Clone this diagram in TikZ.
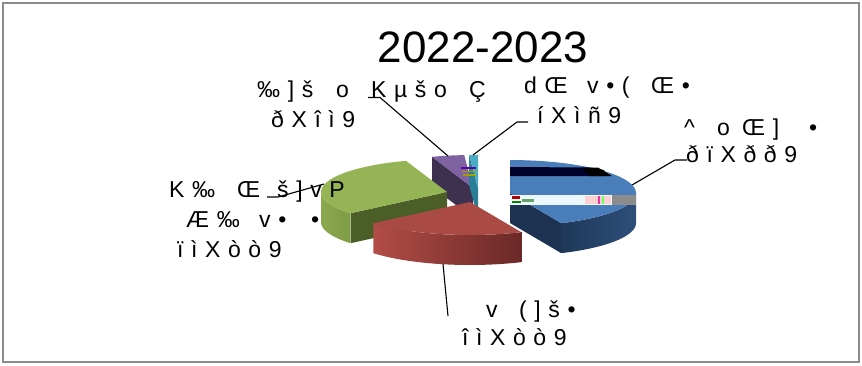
\documentclass[tikz,border=0pt]{standalone}
\usepackage{fontspec}
\setmainfont{Liberation Sans}
\newfontfamily\lblfont{Liberation Sans}[LetterSpace=33]
\definecolor{framegray}{HTML}{8C8C8C}
\definecolor{bluetop}{HTML}{4A7EBB}
\definecolor{bluedark}{HTML}{1D3250}
\definecolor{bluesideA}{HTML}{1F3858}
\definecolor{bluesideB}{HTML}{2E4E7A}
\definecolor{redtop}{HTML}{AA4A44}
\definecolor{redsideA}{HTML}{B24C47}
\definecolor{redsideB}{HTML}{6A2927}
\definecolor{greentop}{HTML}{94B455}
\definecolor{greensideA}{HTML}{8AA84D}
\definecolor{greensideB}{HTML}{7F9C46}
\definecolor{greendark}{HTML}{4B5E28}
\definecolor{purpletop}{HTML}{7E62A1}
\definecolor{purpledark}{HTML}{3E3150}
\definecolor{tealtop}{HTML}{4BACC6}
\definecolor{tealdark}{HTML}{2A7F96}
\begin{document}
\begin{tikzpicture}[x=1pt,y=-1pt,
  lbl/.style={anchor=base west,inner sep=0pt,font=\lblfont\fontsize{23}{23}\selectfont},
  leader/.style={draw=black,line width=1.1pt},
  rimplot/.style={samples=30,variable=\t}]
\useasboundingbox (0,0) rectangle (862,365);
\draw[framegray,line width=1.2pt] (3,3) rectangle (859,362);

% title
\node[anchor=base,inner sep=0pt,font=\fontsize{44}{44}\selectfont] (title) at (483,62) {2022-2023};

% ---- exploded 3D pie: back slices first ----
% purple slice
\fill[purpledark] (473,188) -- (432,156.8) -- (432,186.8) -- (473,218) -- cycle;
\fill[purpletop] (473,188) -- plot[rimplot,domain=251:266] ({473+126*cos(\t)},{188+33*sin(\t)}) -- cycle;
% teal slice
\fill[tealdark] (478,188) -- (469.2,155.1) -- (469.2,185.1) -- (478,218) -- cycle;
\fill[tealtop] (478,188) -- plot[rimplot,domain=266:270] ({478+126*cos(\t)},{188+33*sin(\t)}) -- cycle;
% small coloured marks at the teal slice
\fill[violet!70!blue] (461,167) rectangle (476,169);
\fill[olive!80!yellow] (462,170.5) rectangle (477,172);
\fill[olive!80!yellow] (463,174) rectangle (476,175.5);

% green slice
\fill[greendark] (447,192) -- (350.5,213.2) -- (350.5,243.2) -- (447,222) -- cycle;
\shade[left color=greensideA,right color=greensideB]
  plot[rimplot,domain=140:180] ({447+126*cos(\t)},{192+33*sin(\t)})
  -- plot[rimplot,domain=180:140] ({447+126*cos(\t)},{222+33*sin(\t)}) -- cycle;
\fill[greentop] (447,192) -- plot[rimplot,domain=140:251] ({447+126*cos(\t)},{192+33*sin(\t)}) -- cycle;

% blue slice
\fill[bluedark] (510,193) -- (561.2,223.1) -- (561.2,253.1) -- (510,223) -- cycle;
\shade[left color=bluesideA,right color=bluesideB]
  plot[rimplot,domain=0:66] ({510+126*cos(\t)},{193+33*sin(\t)})
  -- plot[rimplot,domain=66:0] ({510+126*cos(\t)},{223+33*sin(\t)}) -- cycle;
\fill[bluetop] (510,193) -- plot[rimplot,domain=-90:66] ({510+126*cos(\t)},{193+33*sin(\t)}) -- cycle;
% bands across the blue top
\fill[black!60!blue!40!black] (510,167) -- (590,167.5) -- (604,170) -- (606,176) -- (510,176) -- cycle;
\fill[black] (582,168) -- (598,167.5) -- (612,176) -- (590,176) -- cycle;
\fill[cyan!8] (510,195) rectangle (612,204.5);
\fill[framegray] (612,195) rectangle (636,204.5);
\fill[red!70!black] (512,196) rectangle (520,199);
\fill[green!50!black] (512,200.5) rectangle (521,203);
\fill[green!40!black!60] (522,199) rectangle (534,202);
\fill[pink!70] (585,196) rectangle (611,204);
\fill[magenta!80] (598,196) rectangle (600,204);
\fill[green!60] (602,196) rectangle (604,204);

% red slice (front)
\shade[left color=redsideA,right color=redsideB]
  plot[rimplot,domain=66:140] ({470+126*cos(\t)},{202+33*sin(\t)})
  -- plot[rimplot,domain=140:66] ({470+126*cos(\t)},{232+33*sin(\t)}) -- cycle;
\fill[redtop] (470,202) -- plot[rimplot,domain=66:140] ({470+126*cos(\t)},{202+33*sin(\t)}) -- cycle;

% ---- data labels ----
\node[lbl] (a1) at (257,97) {‰]š};
\node[lbl] (a2) at (336,97) {o};
\node[lbl] (a3) at (371,97) {Kµšo};
\node[lbl] (a4) at (469,97) {Ç};
\node[lbl] (a5) at (271,127) {ðXîì9};

\node[lbl] (b1) at (524,93) {dŒ};
\node[lbl] (b2) at (587,93) {v•(};
\node[lbl] (b3) at (651,93) {Œ•};
\node[lbl] (b4) at (537,123) {íXìñ9};

\node[lbl] (c1) at (684,135) {\^{}};
\node[lbl] (c2) at (717,135) {o};
\node[lbl] (c3) at (742,135) {Œ]};
\node[lbl] (c4) at (809,135) {•};
\node[lbl] (c5) at (686,162) {ðïXðð9};

\node[lbl] (d1) at (169,197) {K‰};
\node[lbl] (d2) at (237,197) {Œ};
\node[lbl] (d3) at (277,197) {š]vP};
\node[lbl] (d4) at (186,227) {Æ‰};
\node[lbl] (d5) at (259,227) {v•};
\node[lbl] (d6) at (311,227) {•};
\node[lbl] (d7) at (177,257) {ïìXòò9};

\node[lbl] (e1) at (486,317) {v};
\node[lbl] (e2) at (519,317) {(]š•};
\node[lbl] (e3) at (462,345) {îìXòò9};

% ---- leader lines ----
\coordinate (la0) at (368,97.5);  \coordinate (la1) at (380,97.5); \coordinate (la2) at (448,156);
\coordinate (lb0) at (528,122);   \coordinate (lb1) at (517,122);  \coordinate (lb2) at (473,155);
\coordinate (lc0) at (687,160);   \coordinate (lc1) at (675,160);  \coordinate (lc2) at (632,185);
\coordinate (ld0) at (267,197);   \coordinate (ld1) at (278,197);  \coordinate (ld2) at (324,184);
\coordinate (le1) at (443,264);   \coordinate (le2) at (448,316);
\draw[leader] (la0) -- (la1) -- (la2);
\draw[leader] (lb0) -- (lb1) -- (lb2);
\draw[leader] (lc0) -- (lc1) -- (lc2);
\draw[leader] (ld0) -- (ld1) -- (ld2);
\draw[leader] (le1) -- (le2);
\end{tikzpicture}
\end{document}
